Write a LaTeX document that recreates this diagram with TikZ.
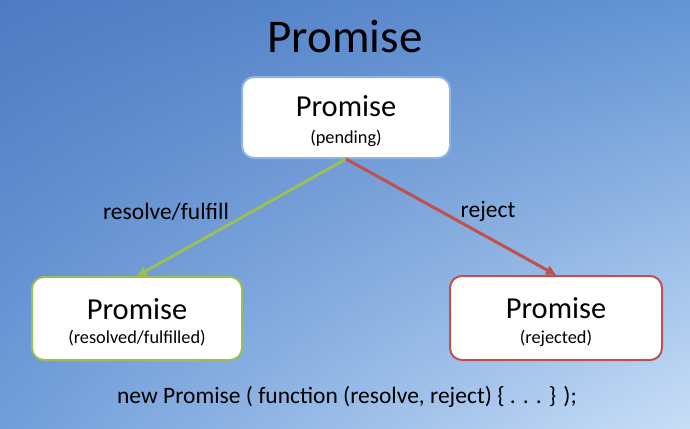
\documentclass[tikz,border=0pt]{standalone}
\usepackage{fontspec}
\setmainfont{Carlito}
\usetikzlibrary{arrows.meta,shadings}
\definecolor{bgUL}{RGB}{78,122,194}
\definecolor{bgUR}{RGB}{98,148,212}
\definecolor{bgLL}{RGB}{112,158,218}
\definecolor{bgLR}{RGB}{200,222,247}
\definecolor{pendblue}{RGB}{141,180,226}
\definecolor{okgreen}{RGB}{155,190,89}
\definecolor{errred}{RGB}{192,80,77}
\tikzset{
  statebox/.style={draw, line width=2pt, fill=white, rounded corners=12pt, inner sep=0pt},
  bigtitle/.style={font=\fontsize{30.5}{34}\selectfont},
  subtitle/.style={font=\fontsize{18.3}{21}\selectfont},
  lbl/.style={font=\fontsize{23.5}{27}\selectfont},
  trans/.style={line width=3pt, -{Triangle[length=10pt,width=9pt]}},
}
\begin{document}
\begin{tikzpicture}[x=1pt,y=-1pt]
\useasboundingbox (0,0) rectangle (690,428);
\shade[upper left=bgUL, upper right=bgUR, lower left=bgLL, lower right=bgLR] (0,0) rectangle (690,428);
\node[font=\fontsize{47}{52}\selectfont] (title) at (345,37) {Promise};
\node[statebox, draw=pendblue, minimum width=208pt, minimum height=81pt] (top) at (346,117.5) {};
\node[bigtitle] (topT) at (346,106) {Promise};
\node[subtitle] (topS) at (346,138) {(pending)};
\node[statebox, draw=okgreen, minimum width=210pt, minimum height=83pt] (left) at (137,318.5) {};
\node[bigtitle] (leftT) at (137,309) {Promise};
\node[subtitle] (leftS) at (137,338) {(resolved/fulfilled)};
\node[statebox, draw=errred, minimum width=212pt, minimum height=84pt] (right) at (556,318) {};
\node[bigtitle] (rightT) at (556,308) {Promise};
\node[subtitle] (rightS) at (556,338) {(rejected)};
\draw[trans, okgreen] (top.south) -- (left.north);
\draw[trans, errred] (top.south) -- (right.north);
\node[lbl] (lres) at (166,212) {resolve/fulfill};
\node[lbl] (lrej) at (488,211) {reject};
\node[lbl] (code) at (347,397) {new Promise ( function (resolve, reject) \{ . . . \} );};
\end{tikzpicture}
\end{document}
